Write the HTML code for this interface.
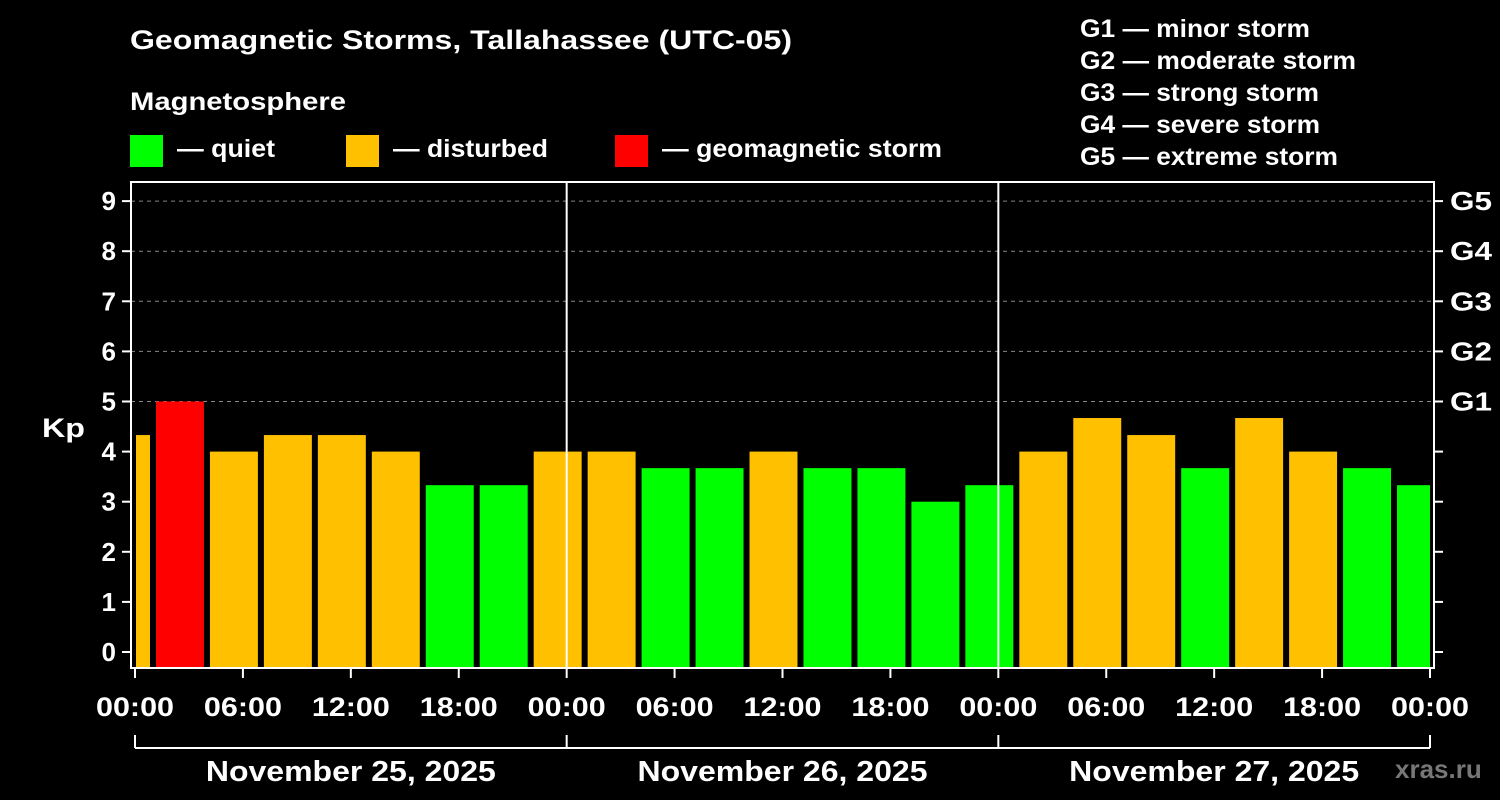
<!DOCTYPE html>
<html><head><meta charset="utf-8"><style>
body{margin:0;background:#000;width:1500px;height:800px;overflow:hidden}
svg{display:block;font-family:"Liberation Sans",Arial,sans-serif;font-weight:bold}
</style></head><body>
<svg id="c" width="1500" height="800">
<text x="130" y="49" fill="#fff" font-size="27" textLength="662" lengthAdjust="spacingAndGlyphs">Geomagnetic Storms, Tallahassee (UTC-05)</text>
<text x="130" y="110" fill="#fff" font-size="25" textLength="216" lengthAdjust="spacingAndGlyphs">Magnetosphere</text>
<g><rect x="130" y="135" width="33" height="32" fill="#00ff00"/><text x="177" y="157" fill="#fff" font-size="25" textLength="98" lengthAdjust="spacingAndGlyphs">— quiet</text></g>
<g><rect x="346" y="135" width="33" height="32" fill="#ffc000"/><text x="393" y="157" fill="#fff" font-size="25" textLength="155" lengthAdjust="spacingAndGlyphs">— disturbed</text></g>
<g><rect x="615" y="135" width="33" height="32" fill="#ff0000"/><text x="662" y="157" fill="#fff" font-size="25" textLength="280" lengthAdjust="spacingAndGlyphs">— geomagnetic storm</text></g>
<g fill="#fff" font-size="25" lengthAdjust="spacingAndGlyphs">
<text x="1080" y="37" textLength="230" lengthAdjust="spacingAndGlyphs">G1 — minor storm</text><text x="1080" y="69" textLength="276" lengthAdjust="spacingAndGlyphs">G2 — moderate storm</text><text x="1080" y="101" textLength="239" lengthAdjust="spacingAndGlyphs">G3 — strong storm</text><text x="1080" y="133" textLength="240" lengthAdjust="spacingAndGlyphs">G4 — severe storm</text><text x="1080" y="165" textLength="258" lengthAdjust="spacingAndGlyphs">G5 — extreme storm</text></g>
<text x="42" y="437" fill="#fff" font-size="27" textLength="43" lengthAdjust="spacingAndGlyphs">Kp</text>
<text x="1395" y="778" fill="#777" font-size="26">xras.ru</text>
<g id="grid"></g><g id="bars"></g><g id="axes"></g>
</svg>
<script>
const kpValues=[4.33,5,4,4.33,4.33,4,3.33,3.33,4,4,3.67,3.67,4,3.67,3.67,3,3.33,4,4.67,4.33,3.67,4.67,4,3.67,3.33];
const binStartHour=-2;
const binHours=3;
const dayLabels=["November 25, 2025","November 26, 2025","November 27, 2025"];
const timeLabels=["00:00","06:00","12:00","18:00"];
const gLabels=["G1","G2","G3","G4","G5"];
const NS="http://www.w3.org/2000/svg";
const X0=135,X1=1430,TOP=182,BOT=668,HRS=72;
const x=h=>X0+(h/HRS)*(X1-X0);
const y=v=>652-v*50.1;
function mk(t,a,p){const e=document.createElementNS(NS,t);for(const k in a)e.setAttribute(k,a[k]);(p||document.getElementById('c')).appendChild(e);return e;}
const grid=document.getElementById('grid'),bars=document.getElementById('bars'),axes=document.getElementById('axes');
for(let v=5;v<=9;v++){const l=mk('line',{x1:131,x2:1434,y1:y(v),y2:y(v),stroke:'#888','stroke-dasharray':'4,4','stroke-width':1},grid);

}
kpValues.forEach((v,i)=>{
 let h0=Math.max(0,binStartHour+i*binHours),h1=Math.min(HRS,binStartHour+(i+1)*binHours);
 let a=x(h0)+(h0>0?3:1),b=x(h1)-(h1<HRS?3:0);
 const col=v>=5?'#ff0000':v>=4?'#ffc000':'#00ff00';
 const r=mk('rect',{x:a,y:y(v),width:b-a,height:667-y(v),fill:col},bars);
 
 
});
const W={stroke:'#fff','stroke-width':2};
mk('rect',{x:131,y:TOP,width:1434-131,height:BOT-TOP,fill:'none',stroke:'#fff','stroke-width':2},axes);
for(let d=1;d<3;d++){mk('line',Object.assign({x1:x(d*24),x2:x(d*24),y1:TOP,y2:BOT},W),axes);}
for(let v=0;v<=9;v++){
 mk('line',Object.assign({x1:122,x2:131,y1:y(v),y2:y(v)},W),axes);
 mk('line',Object.assign({x1:1434,x2:1443,y1:y(v),y2:y(v)},W),axes);
 const t=mk('text',{x:116,y:y(v)+9,fill:'#fff','font-size':26,'text-anchor':'end'},axes);t.textContent=v;
 
 
}
gLabels.forEach((g,i)=>{const t=mk('text',{x:1450,y:y(5+i)+9,fill:'#fff','font-size':26,textLength:42,lengthAdjust:'spacingAndGlyphs'},axes);t.textContent=g;
 
 });
for(let h=0;h<=HRS;h+=6){
 mk('line',Object.assign({x1:x(h),x2:x(h),y1:BOT,y2:BOT+10},W),axes);
 const t=mk('text',{x:x(h)-39,y:716,fill:'#fff','font-size':27,textLength:78,lengthAdjust:'spacingAndGlyphs'},axes);t.textContent=timeLabels[(h%24)/6];
 
 
}
mk('line',Object.assign({x1:X0,x2:X1,y1:748,y2:748},W),axes);
for(let d=0;d<=3;d++)mk('line',Object.assign({x1:x(d*24),x2:x(d*24),y1:735,y2:748},W),axes);
dayLabels.forEach((s,d)=>{const t=mk('text',{x:x(d*24+12)-145,y:781,fill:'#fff','font-size':29,textLength:290,lengthAdjust:'spacingAndGlyphs'},axes);t.textContent=s;
 
 });
</script>
</body></html>
